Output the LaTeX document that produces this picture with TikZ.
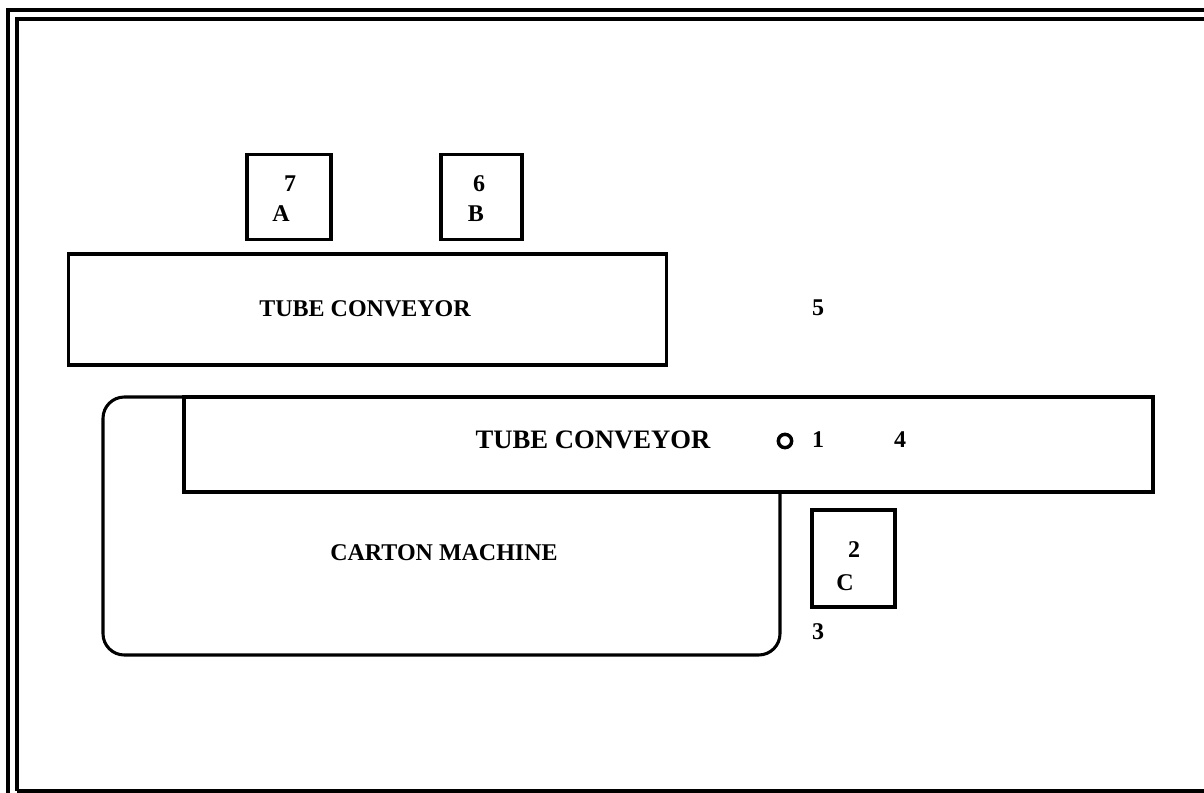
\documentclass[tikz,border=0pt]{standalone}
\usepackage{fontspec}
\setmainfont{Liberation Serif}
\begin{document}
\begin{tikzpicture}[x=0.75pt,y=-0.75pt,
  frameline/.style={line width=3pt},
  conv/.style={draw,fill=white,line width=2.3pt,rectangle,inner sep=0pt},
  station/.style={draw,fill=white,line width=2.6pt,rectangle,inner sep=0pt},
  lbl/.style={font=\bfseries\fontsize{18}{20}\selectfont,inner sep=0pt},
  small/.style={font=\bfseries\fontsize{18}{20}\selectfont,inner sep=0pt}]
\useasboundingbox (0,0) rectangle (1204,793);
% frame
\draw[frameline] (8,793) -- (8,10) -- (1204,10);
\draw[frameline] (17,790.5) -- (17,19) -- (1204,19);
\draw[frameline] (17,790.5) -- (1204,790.5);
% stations A and B
\node[station,minimum width=63pt,minimum height=63.75pt] (stA) at (289,197) {};
\node[station,minimum width=61pt,minimum height=63.75pt] (stB) at (481.5,197) {};
\node[small] (n7) at (290,184) {7};
\node[small] (tA) at (281,214) {A};
\node[small] (n6) at (479,184) {6};
\node[small] (tB) at (476,214) {B};
% upper tube conveyor
\node[conv,minimum width=449pt,minimum height=83.25pt] (conv1) at (367.5,309.5) {};
\node[lbl] (t1) at (365,309) {TUBE CONVEYOR};
\node[small] (n5) at (818,308) {5};
% carton machine
\draw[line width=2.3pt,rounded corners=16pt,fill=white] (400,397) -- (103,397) -- (103,655) -- (780,655) -- (780,470);
\node[lbl] (t3) at (444,553) {CARTON MACHINE};
% lower tube conveyor
\node[conv,minimum width=726.75pt,minimum height=71.25pt] (conv2) at (668.5,444.5) {};
\node[lbl,font=\bfseries\fontsize{20}{22}\selectfont] (t2) at (593,440) {TUBE CONVEYOR};
\node[circle,draw,line width=2.6pt,minimum size=10pt,inner sep=0pt] (dot) at (785,441) {};
\node[small] (n1) at (818,440) {1};
\node[small] (n4) at (900,440) {4};
% station C
\node[station,minimum width=62pt,minimum height=72.75pt] (stC) at (853.5,558.5) {};
\node[small] (n2) at (854,550) {2};
\node[small] (tC) at (845,583) {C};
\node[small] (n3) at (818,632) {3};
\end{tikzpicture}
\end{document}
